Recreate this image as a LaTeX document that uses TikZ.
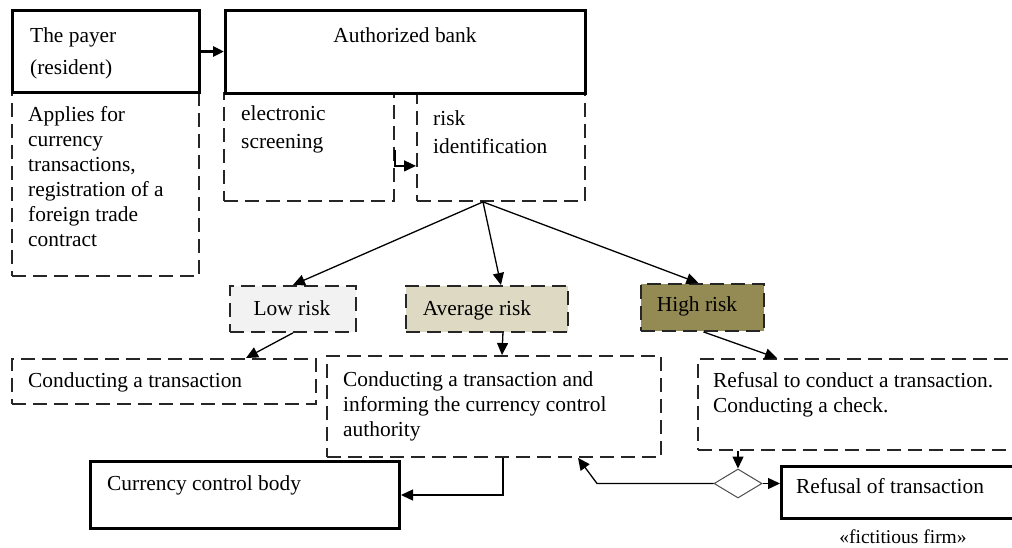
\documentclass[tikz,border=0pt]{standalone}
\usepackage{fontspec}
\setmainfont{Liberation Serif}
\usetikzlibrary{arrows.meta,shapes.geometric}
\definecolor{lowfill}{HTML}{F2F2F2}
\definecolor{avgfill}{HTML}{DDD9C3}
\definecolor{highfill}{HTML}{948A54}
\tikzset{
  dbox/.style={draw=black!85, line width=1.9pt, dash pattern=on 14pt off 7pt, inner sep=0pt, anchor=north west},
  tbox/.style={draw=black, line width=3pt, inner sep=0pt, anchor=north west},
  txt/.style={inner sep=0pt, align=left, font=\fontsize{21.4}{25}\selectfont},
  txtw/.style={inner sep=0pt, align=left, font=\fontsize{21.4}{28}\selectfont},
  arr/.style={draw=black, line width=1.3pt, -{Triangle[length=12pt,width=11pt]}},
  barr/.style={draw=black, line width=3pt, -{Triangle[length=11pt,width=10pt]}},
}
\begin{document}
\begin{tikzpicture}[x=1pt,y=-1pt]
\useasboundingbox (0,0) rectangle (1012,547);
\clip (0,0) rectangle (1012,547);
% dashed boxes
\node[dbox, minimum width=187pt, minimum height=183pt] (applies) at (11,92) {};
\node[dbox, minimum width=170pt, minimum height=108pt] (screen) at (223,92) {};
\node[dbox, minimum width=168pt, minimum height=108pt] (riskid) at (416,92) {};
\node[dbox, fill=lowfill, minimum width=126pt, minimum height=46pt] (low) at (229,285) {};
\node[dbox, fill=avgfill, minimum width=162pt, minimum height=46pt] (avg) at (405,285) {};
\node[dbox, fill=highfill, minimum width=123pt, minimum height=47pt] (high) at (640,283) {};
\node[dbox, minimum width=304pt, minimum height=45pt] (conduct) at (11,358) {};
\node[dbox, minimum width=334pt, minimum height=101pt] (inform) at (326,355) {};
\node[dbox, minimum width=330pt, minimum height=91pt] (refuse) at (697,358) {};
% thick boxes
\node[tbox, minimum width=187pt, minimum height=82pt] (payer) at (11,9) {};
\node[tbox, minimum width=360pt, minimum height=83pt] (bank) at (224,9) {};
\node[tbox, minimum width=309pt, minimum height=67pt] (currency) at (89,460) {};
\node[tbox, minimum width=245pt, minimum height=52pt] (refusal) at (780,465) {};
\node[draw=black!70, line width=1pt, diamond, minimum width=48pt, minimum height=29pt, inner sep=0pt] (dia) at (738,483.5) {};
% texts
\node[txt, font=\fontsize{21.4}{32}\selectfont, anchor=north west] (tpayer) at (30,27) {The payer\\(resident)};
\node[txt, anchor=base] (tbank) at (405,42) {Authorized bank};
\node[txt, anchor=north west] (tapplies) at (28,106) {Applies for\\currency\\transactions,\\registration of a\\foreign trade\\contract};
\node[txtw, anchor=north west] (tscreen) at (241,105) {electronic\\screening};
\node[txtw, anchor=north west] (triskid) at (433,110) {risk\\identification};
\node[txt, anchor=base] (tlow) at (292,315) {Low risk};
\node[txt, anchor=base] (tavg) at (477,315) {Average risk};
\node[txt, anchor=base] (thigh) at (697,311) {High risk};
\node[txt, anchor=base west] (tconduct) at (28,387) {Conducting a transaction};
\node[txt, anchor=north west] (tinform) at (343,371) {Conducting a transaction and\\informing the currency control\\authority};
\node[txt, anchor=north west] (trefuse) at (713,372) {Refusal to conduct a transaction.\\Conducting a check.};
\node[txt, anchor=base west] (tcurrency) at (107,490) {Currency control body};
\node[txt, anchor=base west] (trefusal) at (796,493) {Refusal of transaction};
\node[inner sep=0pt, font=\fontsize{19.5}{22}\selectfont, anchor=base] (tfict) at (903,543) {«fictitious firm»};
% connectors
\coordinate (bendL) at (597,483.5);
\draw[barr] (payer.east) -- (payer.east -| bank.west);
\draw[arr] ([yshift=52pt]screen.south east) |- ([yshift=36pt]riskid.south west);
\draw[arr] ([xshift=67pt]riskid.south west) -- (low.north);
\draw[arr] ([xshift=67pt]riskid.south west) -- ([xshift=14pt]avg.north);
\draw[arr] ([xshift=67pt]riskid.south west) -- ([xshift=-4pt]high.north);
\draw[arr] (low.south) -- ([xshift=235pt]conduct.north west);
\draw[arr] ([xshift=16pt]avg.south) -- ([xshift=176pt]inform.north west);
\draw[arr] ([xshift=1pt]high.south) -- ([xshift=80pt]refuse.north west);
\draw[arr] ([xshift=41pt]refuse.south west) -- (dia.north);
\draw[arr] (dia.east) -- (dia.east -| refusal.west);
\draw[arr] (dia.west) -- (bendL) -- ([xshift=252pt]inform.south west);
\draw[arr] ([xshift=177pt]inform.south west) |- (currency.east);
\end{tikzpicture}
\end{document}
